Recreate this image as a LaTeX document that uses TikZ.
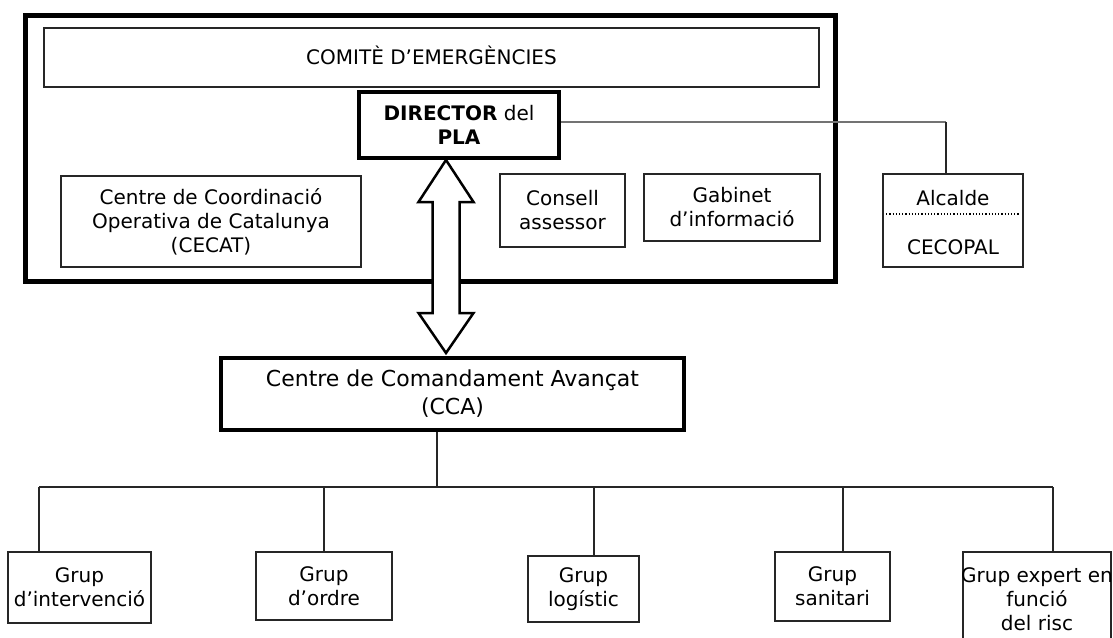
\documentclass[tikz,border=0pt]{standalone}
\usepackage{fontspec}
\setmainfont{DejaVu Sans}
\usetikzlibrary{positioning, calc}

\begin{document}
\begin{tikzpicture}[x=1pt, y=-1pt,
  box/.style={draw=black!85, line width=1.6pt, inner sep=0pt, align=center, font=\fontsize{20}{24}\selectfont},
  thickbox/.style={box, draw=black, line width=4.5pt},
  link/.style={draw=black!85, line width=1.6pt}]
\clip (0,0) rectangle (1113,637);
\fill[white] (0,0) rectangle (1113,637);
%frame
\draw[line width=5pt] (25,15) rectangle (835,281);
\node[box, minimum width=775pt, minimum height=59pt] (comite) at (431.5,57.5) {\raisebox{5pt}{COMITÈ D’EMERGÈNCIES}};
\node[thickbox, minimum width=200pt, minimum height=66pt] (dir) at (459,125) {\textbf{DIRECTOR} del\\\textbf{PLA}};
\node[box, minimum width=300pt, minimum height=91pt] (cecat) at (211,221.5) {Centre de Coordinació\\Operativa de Catalunya\\(CECAT)};
\node[box, minimum width=125pt, minimum height=73pt] (consell) at (562.5,210.5) {Consell\\assessor};
\node[box, minimum width=176pt, minimum height=67pt] (gabinet) at (732,207.5) {Gabinet\\d’informació};
%alcalde
\node[box, minimum width=140pt, minimum height=93pt] (alcalde) at (953,220.5) {};
\node[box, draw=none] (alc) at (953,198) {Alcalde};
\node[box, draw=none] (cecopal) at (953,247) {CECOPAL};
\draw[dotted, line width=1.2pt] ($(alcalde.west)+(4,-6.5)$) -- ($(alcalde.east)+(-4,-6.5)$);
\coordinate (bend) at (946,122);
\draw[black!55, line width=1.3pt] (dir.east |- bend) -- (bend);
\draw[link] (bend) -- (bend |- alcalde.north);
%double arrow
\coordinate (tip) at (446,160);
\draw[line width=2.5pt, fill=white, line join=miter] (tip) -- ++(27.5,42) -- ++(-14,0) -- ++(0,111) -- ++(14,0)
  -- ++(-27.5,40) -- ++(-27.5,-40) -- ++(14,0) -- ++(0,-111) -- ++(-14,0) -- cycle;
%cca
\node[thickbox, minimum width=463pt, minimum height=72pt, font=\fontsize{22}{28}\selectfont] (cca) at (452.5,394) {Centre de Comandament Avançat\\(CCA)};
\coordinate (bus) at (437,487);
\draw[link] (bus |- cca.south) -- (bus);
%groups
\node[box, minimum width=143pt, minimum height=71pt] (interv) at (79.5,587.5) {Grup\\d’intervenció};
\node[box, minimum width=136pt, minimum height=68pt] (ordre) at (324,586) {Grup\\d’ordre};
\node[box, minimum width=111pt, minimum height=66pt] (logistic) at (583.5,589) {Grup\\logístic};
\node[box, minimum width=115pt, minimum height=69pt] (sanitari) at (832.5,586.5) {Grup\\sanitari};
\node[box, minimum width=148pt, minimum height=95pt] (expert) at (1037,599.5) {\makebox[0pt]{Grup expert en}\\funció\\del risc};
\foreach \x/\n in {39/interv, 324/ordre, 594/logistic, 843/sanitari, 1053/expert}{
  \coordinate (b\n) at (\x,487);
  \draw[link] (b\n) -- (b\n |- \n.north);
}
\draw[link] (binterv) -- (bexpert);
\end{tikzpicture}
\end{document}
